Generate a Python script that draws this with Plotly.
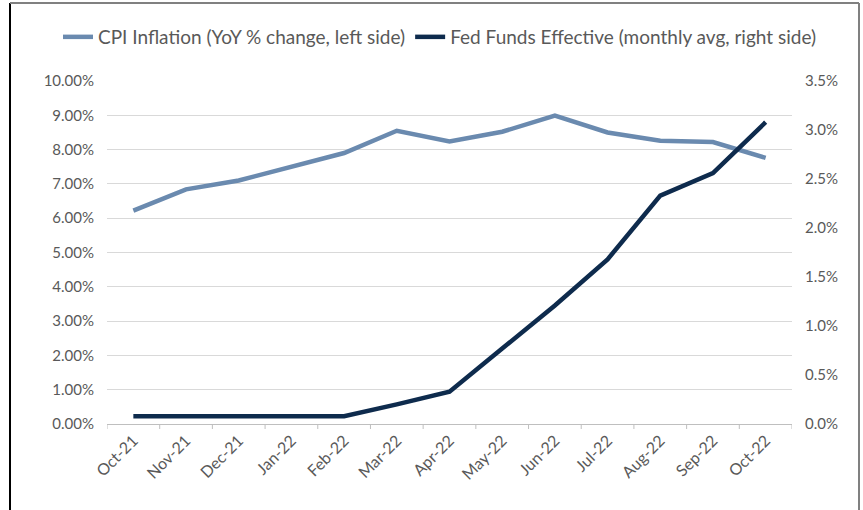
import plotly.graph_objects as go

months = ["Oct-21", "Nov-21", "Dec-21", "Jan-22", "Feb-22", "Mar-22", "Apr-22",
          "May-22", "Jun-22", "Jul-22", "Aug-22", "Sep-22", "Oct-22"]
cpi = [6.22, 6.84, 7.10, 7.50, 7.90, 8.55, 8.24, 8.52, 8.99, 8.50, 8.26, 8.22, 7.76]
fed = [0.08, 0.08, 0.08, 0.08, 0.08, 0.20, 0.33, 0.77, 1.21, 1.68, 2.33, 2.56, 3.08]

left_ticks = [i for i in range(0, 11)]
left_text = [f"{v:.2f}%" for v in left_ticks]
right_ticks = [i * 0.5 for i in range(0, 8)]
right_text = [f"{v:.1f}%" for v in right_ticks]

W, H = 863, 510
L, R, T, B = 107, 71, 81, 86
pw, ph = W - L - R, H - T - B

FONT = "Lato, Arial, sans-serif"
GRAY = "#595959"

fig = go.Figure()
fig.add_trace(go.Scatter(x=list(range(len(months))), y=cpi, mode="lines",
                         name="CPI Inflation (YoY % change, left side)",
                         line=dict(color="#6A8AAF", width=4.5), yaxis="y"))
fig.add_trace(go.Scatter(x=list(range(len(months))), y=fed, mode="lines",
                         name="Fed Funds Effective (monthly avg, right side)",
                         line=dict(color="#0E2B4D", width=4.5), yaxis="y2"))

def px_x(x):
    return (x - L) / pw

def px_y(y):
    return 1 - (y - T) / ph

fig.update_layout(
    width=W, height=H,
    margin=dict(l=L, r=R, t=T, b=B, autoexpand=False),
    paper_bgcolor="white", plot_bgcolor="white",
    font=dict(family=FONT, color=GRAY, size=15),
    showlegend=True,
    legend=dict(orientation="h", x=px_x(58), xanchor="left", y=px_y(37), yanchor="middle",
                font=dict(size=19, color=GRAY), itemwidth=30, tracegroupgap=0),
    xaxis=dict(range=[-0.5, len(months) - 0.5], tickmode="array",
               tickvals=list(range(len(months))), ticktext=months,
               tickangle=-45, showgrid=False, showline=True, linecolor="#BFBFBF",
               linewidth=1, ticks="", zeroline=False, tickfont=dict(size=16, color=GRAY)),
    yaxis=dict(range=[0, 10], tickmode="array", tickvals=left_ticks, ticktext=left_text,
               showgrid=True, gridcolor="#D9D9D9", gridwidth=1, zeroline=False,
               showline=False, tickfont=dict(size=15, color=GRAY), ticklabelstandoff=12),
    yaxis2=dict(range=[0, 3.5], tickmode="array", tickvals=right_ticks, ticktext=right_text,
                overlaying="y", side="right", showgrid=False, zeroline=False,
                showline=False, tickfont=dict(size=15, color=GRAY), ticklabelstandoff=12),
)

# tick marks between categories on the x axis
shapes = []
for i in range(len(months) + 1):
    shapes.append(dict(type="line", xref="x", yref="paper", x0=i - 0.5, x1=i - 0.5,
                       y0=0, y1=-5 / ph, line=dict(color="#BFBFBF", width=1)))
# frame around the picture
shapes.append(dict(type="line", xref="paper", yref="paper", x0=px_x(10), x1=px_x(10),
                   y0=px_y(3), y1=px_y(H + 2), line=dict(color="black", width=2)))
shapes.append(dict(type="line", xref="paper", yref="paper", x0=px_x(10), x1=px_x(859),
                   y0=px_y(3), y1=px_y(3), line=dict(color="#808080", width=2)))
shapes.append(dict(type="line", xref="paper", yref="paper", x0=px_x(859), x1=px_x(859),
                   y0=px_y(3), y1=px_y(H + 2), line=dict(color="#808080", width=2)))
fig.update_layout(shapes=shapes)

fig.write_html("out.html", config={"displayModeBar": False},
               post_script="document.body.style.margin='0px';")
